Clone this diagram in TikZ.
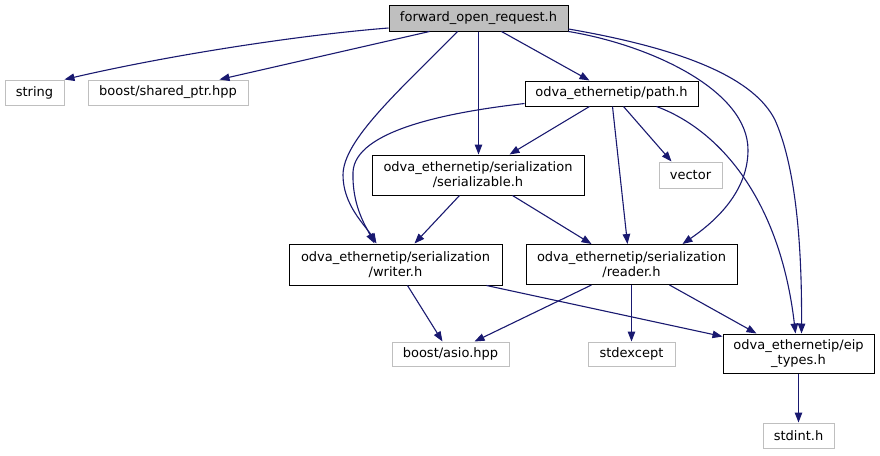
\documentclass[tikz,border=0pt]{standalone}
\usepackage{fontspec}
\setmainfont{DejaVu Sans}
\usetikzlibrary{arrows.meta}
\definecolor{edgeblue}{HTML}{191970}
\definecolor{grayline}{HTML}{BFBFBF}
\begin{document}
\begin{tikzpicture}[x=1pt,y=-1pt,
  base/.style={rectangle, inner sep=0pt, align=center, font=\fontsize{13}{15}\selectfont, line width=1pt},
  mainbox/.style={base, draw=black},
  topbox/.style={base, draw=black, fill=grayline},
  extbox/.style={base, draw=grayline},
  edge/.style={draw=edgeblue, line width=1.1pt, -{Triangle[length=10pt,width=7.5pt]}}
]
\useasboundingbox (0,0) rectangle (880,455);
\fill[white] (0,0) rectangle (880,455);

\node[topbox, minimum width=179pt, minimum height=26pt] (top) at (478.5,18) {forward\_open\_request.h};
\node[extbox, minimum width=59pt, minimum height=25pt] (string) at (34.5,92.5) {string};
\node[extbox, minimum width=160pt, minimum height=25pt] (shptr) at (168,92.5) {boost/shared\_ptr.hpp};
\node[mainbox, minimum width=173pt, minimum height=25pt] (path) at (611.5,93.5) {odva\_ethernetip/path.h};
\node[mainbox, minimum width=212pt, minimum height=40pt] (ser) at (478,175) {odva\_ethernetip/serialization\\/serializable.h};
\node[extbox, minimum width=63pt, minimum height=26pt] (vector) at (690.5,175) {vector};
\node[mainbox, minimum width=213pt, minimum height=41pt] (writer) at (395.5,264.5) {odva\_ethernetip/serialization\\/writer.h};
\node[mainbox, minimum width=211pt, minimum height=40pt] (reader) at (631.5,264.5) {odva\_ethernetip/serialization\\/reader.h};
\node[extbox, minimum width=117pt, minimum height=24pt] (asio) at (450.5,354) {boost/asio.hpp};
\node[extbox, minimum width=87pt, minimum height=24pt] (stdexcept) at (631.5,354) {stdexcept};
\node[mainbox, minimum width=151pt, minimum height=39pt] (eip) at (798.5,353.5) {odva\_ethernetip/eip\\\_types.h};
\node[extbox, minimum width=71pt, minimum height=25pt] (stdint) at (798.5,435.5) {stdint.h};

% edges from top
\draw[edge] ([yshift=-10pt]top.west) .. controls (300,35) and (170,55) .. (string.north east);
\draw[edge] ([xshift=41pt]top.south west) -- ([xshift=132pt]shptr.north west);
\draw[edge] ([xshift=113pt]top.south west) -- ([xshift=65pt]path.north west);
\draw[edge] (top.south) -- (top.south |- ser.north);
\draw[edge] ([xshift=69pt]top.south west) .. controls (400,90) and (343,140) .. (343,175) .. controls (343,205) and (365,225) .. ([xshift=88pt]writer.north west);
\draw[edge] (top.south east) .. controls (650,45) and (748,90) .. (748,150) .. controls (748,195) and (710,225) .. ([xshift=157pt]reader.north west);
\draw[edge] ([yshift=-11pt]top.east) .. controls (690,50) and (755,80) .. (775,120) .. controls (795,165) and (802,240) .. ([xshift=79pt]eip.north west);

% edges from path.h
\draw[edge] ([yshift=-10pt]path.west) .. controls (450,112) and (355,130) .. (353,172) .. controls (352,205) and (365,225) .. ([xshift=86pt]writer.north west);
\draw[edge] ([xshift=132pt]path.south west) .. controls (720,130) and (780,200) .. ([xshift=73pt]eip.north west);
\draw[edge] ([xshift=88pt]path.south west) -- ([xshift=102pt]reader.north west);
\draw[edge] ([xshift=99pt]path.south west) -- ([xshift=13pt]vector.north west);
\draw[edge] ([xshift=65pt]path.south west) -- ([xshift=138pt]ser.north west);

% edges from serializable.h
\draw[edge] ([xshift=88pt]ser.south west) -- ([xshift=126pt]writer.north west);
\draw[edge] ([xshift=141pt]ser.south west) -- ([xshift=66pt]reader.north west);

% edges from writer.h
\draw[edge] ([xshift=119pt]writer.south west) -- ([xshift=51pt]asio.north west);
\draw[edge] ([xshift=198pt]writer.south west) -- ([yshift=-3pt]eip.north west);

% edges from reader.h
\draw[edge] ([xshift=66pt]reader.south west) -- ([xshift=83pt]asio.north west);
\draw[edge] (reader.south) -- (stdexcept.north);
\draw[edge] ([xshift=144pt]reader.south west) -- ([xshift=34pt]eip.north west);

% edges from eip_types.h
\draw[edge] (eip.south) -- (stdint.north);
\end{tikzpicture}
\end{document}
